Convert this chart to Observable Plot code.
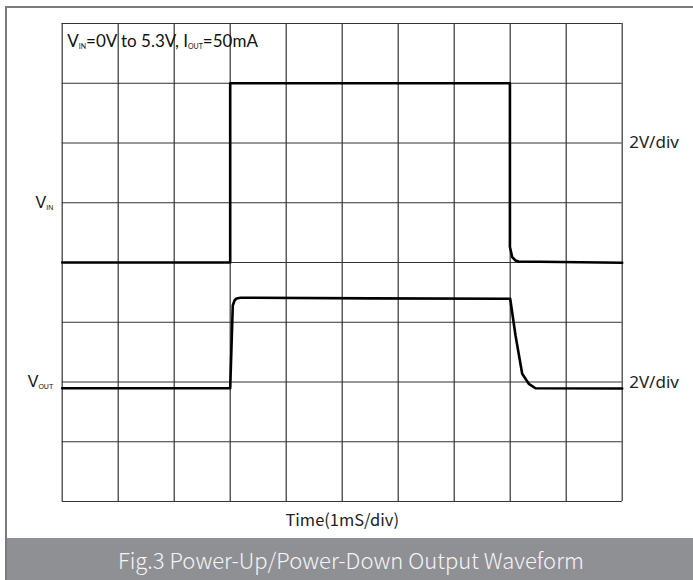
<!DOCTYPE html>
<html>
<head>
<meta charset="utf-8">
<script src="https://cdn.jsdelivr.net/npm/d3@7"></script>
<script src="https://cdn.jsdelivr.net/npm/@observablehq/plot@0.6"></script>
<style>
  html, body { margin: 0; padding: 0; background: #fff; }
  #wrap { position: relative; width: 693px; height: 580px; overflow: hidden; background: #fff; }
  #frame { position: absolute; left: 5px; top: 6px; width: 720px; height: 600px;
           border-left: 2px solid #7c7c7c; border-top: 2px solid #7c7c7c; box-sizing: border-box; }
  #chart { position: absolute; left: 0; top: 0; }
  #band { position: absolute; left: 7px; top: 537.5px; width: 686px; height: 43px; background: #8f9094;
          color: #f5f5f5; font-family: "Noto Sans CJK SC", "Noto Sans", sans-serif; font-size: 22px;
          font-weight: 300; line-height: 43px; text-align: center; padding-left: 2px; box-sizing: border-box; }
</style>
</head>
<body>
<div id="wrap">
  <div id="frame"></div>
  <div id="chart"></div>
  <div id="band"></div>
</div>
<script>
// ---- data (time and amplitude in grid divisions) ----
const gridX = [0, 1, 2, 3, 4, 5, 6, 7, 8, 9, 10];
const gridY = [0, 1, 2, 3, 4, 5, 6, 7, 8];

const vinTime  = [0, 3, 3, 7.995, 7.995, 8.036, 8.095, 8.148, 10];
const vinLevel = [4, 4, 7, 7, 4.26, 4.089, 4.033, 4.017, 3.995];

const voutTime  = [0, 3.0, 3.046, 3.077, 3.113, 3.184, 5.5, 8.0, 8.095, 8.214, 8.332, 8.452, 10];
const voutLevel = [1.895, 1.895, 3.28, 3.364, 3.398, 3.41, 3.40, 3.393, 2.778, 2.137, 1.97, 1.896, 1.89];

const titleText = "V_{IN}=0V to 5.3V, I_{OUT}=50mA";
const vinLabel = "V_{IN}";
const voutLabel = "V_{OUT}";
const scaleLabel = "2V/div";
const xLabel = "Time(1mS/div)";
const captionText = "Fig.3 Power-Up/Power-Down Output Waveform";

const vin = vinTime.map((t, i) => ({t, v: vinLevel[i]}));
const vout = voutTime.map((t, i) => ({t, v: voutLevel[i]}));

const plot = Plot.plot({
  width: 693,
  height: 537,
  marginLeft: 61.7,
  marginRight: 71.3,
  marginTop: 23,
  marginBottom: 36,
  x: {domain: [0, 10], axis: null},
  y: {domain: [0, 8], axis: null},
  style: {background: "transparent", overflow: "visible"},
  marks: [
    Plot.ruleX(gridX, {x: d => d, y1: 0, y2: 8, stroke: "#333", strokeWidth: 1.2, strokeOpacity: 1}),
    Plot.ruleY(gridY, {y: d => d, x1: 0, x2: 10, stroke: "#333", strokeWidth: 1.2, strokeOpacity: 1}),
    Plot.line(vin, {x: "t", y: "v", stroke: "#000", strokeWidth: 2.6, strokeLinejoin: "round"}),
    Plot.line(vout, {x: "t", y: "v", stroke: "#000", strokeWidth: 2.6, strokeLinejoin: "round"}),
    Plot.text([titleText], {x: 0, y: 8, text: d => d, textAnchor: "start", dx: 5, dy: 18.5,
      fontSize: 17, fontFamily: "Lato, sans-serif", fill: "#111"}),
    Plot.text([vinLabel], {x: 0, y: 5, text: d => d, textAnchor: "end", dx: -9, dy: 0,
      fontSize: 16, fontFamily: "Liberation Sans, Arial, sans-serif", fill: "#111"}),
    Plot.text([voutLabel], {x: 0, y: 2, text: d => d, textAnchor: "end", dx: -9, dy: 0,
      fontSize: 16, fontFamily: "Liberation Sans, Arial, sans-serif", fill: "#111"}),
    Plot.text([scaleLabel], {x: 10, y: 6, text: d => d, textAnchor: "start", dx: 7, dy: 0,
      fontSize: 17, fontFamily: "Noto Sans, sans-serif", fill: "#222"}),
    Plot.text([scaleLabel], {x: 10, y: 2, text: d => d, textAnchor: "start", dx: 7, dy: 1,
      fontSize: 17, fontFamily: "Noto Sans, sans-serif", fill: "#222"}),
    Plot.text([xLabel], {x: 5, y: 0, text: d => d, textAnchor: "middle", dy: 19,
      fontSize: 16.5, fontFamily: "Noto Sans CJK SC, Noto Sans, sans-serif", fill: "#222"})
  ]
});

// turn "_{..}" into subscript tspans
d3.select(plot).selectAll("text").each(function () {
  const s = this.textContent;
  if (!s.includes("_{")) return;
  const el = d3.select(this);
  const fs = parseFloat(getComputedStyle(this).fontSize) || 15;
  el.text(null);
  const parts = s.split(/(_\{[^}]*\})/);
  let lowered = false;
  for (const p of parts) {
    if (!p) continue;
    if (p.startsWith("_{")) {
      el.append("tspan").attr("font-size", Math.round(fs * 0.46)).attr("dy", lowered ? 0 : fs * 0.12)
        .text(p.slice(2, -1));
      lowered = true;
    } else {
      el.append("tspan").attr("dy", lowered ? -fs * 0.12 : 0).text(p);
      lowered = false;
    }
  }
});

document.getElementById("chart").appendChild(plot);
document.getElementById("band").textContent = captionText;
</script>
</body>
</html>
